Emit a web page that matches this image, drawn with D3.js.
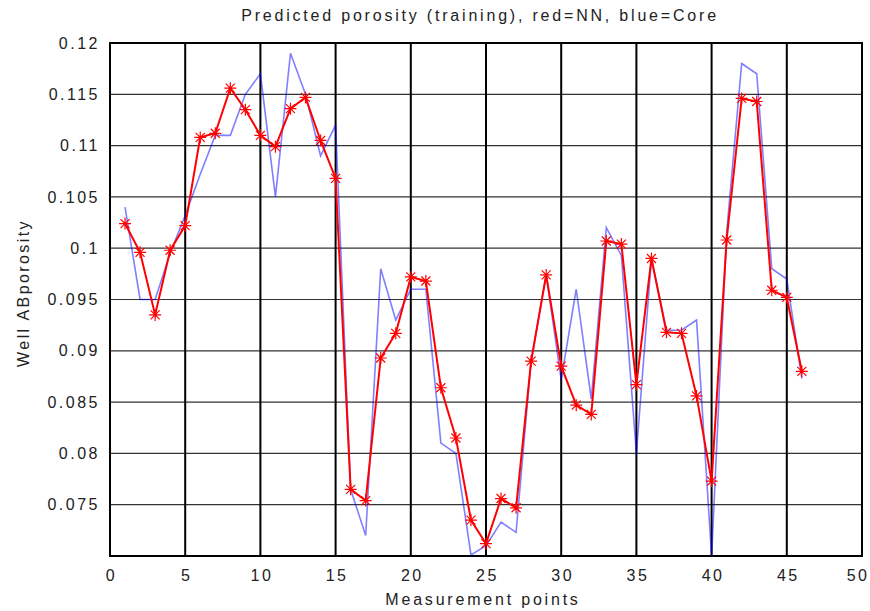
<!DOCTYPE html>
<html>
<head>
<meta charset="utf-8">
<script src="https://cdn.jsdelivr.net/npm/d3@7"></script>
<style>
    body { margin: 0; background: #fff; }
    text { font-family: "Liberation Sans", Arial, sans-serif; fill: #222; }
</style>
</head>
<body>
<svg id="chart" width="870" height="611"></svg>
<script>
// predicted porosity from the network (red) and measured core porosity (blue), points 1..46
const nnPorosity = [
    0.1024, 0.0996, 0.0935, 0.0998, 0.1022, 0.1108, 0.1112, 0.1156, 0.1135, 0.1110,
    0.1099, 0.1136, 0.1147, 0.1105, 0.1068, 0.0765, 0.0754, 0.0893, 0.0917, 0.0972,
    0.0968, 0.0864, 0.0815, 0.0735, 0.0712, 0.0756, 0.0747, 0.0890, 0.0974, 0.0885,
    0.0847, 0.0838, 0.1007, 0.1004, 0.0867, 0.0990, 0.0918, 0.0917, 0.0856, 0.0773,
    0.1008, 0.1146, 0.1143, 0.0959, 0.0952, 0.0880
];
const corePorosity = [
    0.1040, 0.0950, 0.0950, 0.0995, 0.1032, 0.1072, 0.1110, 0.1110, 0.1150, 0.1170,
    0.1050, 0.1190, 0.1150, 0.1090, 0.1120, 0.0765, 0.0720, 0.0980, 0.0930, 0.0960,
    0.0960, 0.0810, 0.0800, 0.0701, 0.0710, 0.0733, 0.0723, 0.0890, 0.0974, 0.0872,
    0.0960, 0.0853, 0.1020, 0.0993, 0.0800, 0.0990, 0.0920, 0.0920, 0.0930, 0.0700,
    0.1015, 0.1180, 0.1170, 0.0980, 0.0970, 0.0873
];
const xTicks = [0, 5, 10, 15, 20, 25, 30, 35, 40, 45, 50];
const yTicks = [0.075, 0.08, 0.085, 0.09, 0.095, 0.1, 0.105, 0.11, 0.115, 0.12];

const margin = { left: 110, right: 8, top: 43, bottom: 55 };
const width = 870, height = 611;

const x = d3.scaleLinear().domain([0, 50]).range([margin.left, width - margin.right]);
const y = d3.scaleLinear().domain([0.07, 0.12]).range([height - margin.bottom, margin.top]);

const svg = d3.select("#chart");

// horizontal grid
svg.append("g")
    .selectAll("line")
    .data(yTicks)
    .enter().append("line")
    .attr("x1", x(0)).attr("x2", x(50))
    .attr("y1", d => y(d)).attr("y2", d => y(d))
    .attr("stroke", "#333")
    .attr("stroke-width", 1.2);

// vertical grid
svg.append("g")
    .selectAll("line")
    .data(xTicks.filter(d => d > 0 && d < 50))
    .enter().append("line")
    .attr("x1", d => x(d)).attr("x2", d => x(d))
    .attr("y1", y(0.07)).attr("y2", y(0.12))
    .attr("stroke", "#000")
    .attr("stroke-width", 2);

// axes with labels only
const xAxis = d3.axisBottom(x).tickValues(xTicks).tickSize(0).tickPadding(14);
const yAxis = d3.axisLeft(y).tickValues(yTicks).tickSize(0).tickPadding(10)
    .tickFormat(d => String(+d.toFixed(3)));

const gx = svg.append("g").attr("transform", "translate(0," + y(0.07) + ")").call(xAxis);
const gy = svg.append("g").attr("transform", "translate(" + x(0) + ",0)").call(yAxis);
[gx, gy].forEach(g => {
    g.select(".domain").remove();
    g.selectAll("text")
        .style("font-family", "'Liberation Sans', Arial, sans-serif")
        .style("font-size", "16px")
        .style("letter-spacing", "2.5px")
        .attr("fill", "#222");
});
gx.selectAll("text").attr("dx", "1px");
// last label sits against the right edge
gx.selectAll("text").filter(d => d === 50)
    .attr("text-anchor", "end")
    .attr("dx", (width - 1 - x(50)) + "px");

// frame
svg.append("rect")
    .attr("x", x(0)).attr("y", y(0.12))
    .attr("width", x(50) - x(0)).attr("height", y(0.07) - y(0.12))
    .attr("fill", "none")
    .attr("stroke", "#000")
    .attr("stroke-width", 2);

const line = d3.line()
    .x((d, i) => x(i + 1))
    .y(d => y(d));

svg.append("path")
    .datum(corePorosity)
    .attr("d", line)
    .attr("fill", "none")
    .attr("stroke", "#0000ff")
    .attr("stroke-opacity", 0.5)
    .attr("stroke-width", 1.6);

svg.append("path")
    .datum(nnPorosity)
    .attr("d", line)
    .attr("fill", "none")
    .attr("stroke", "#ff0000")
    .attr("stroke-width", 2);

// asterisk markers
const s = 6, sd = 4.5;
const star = "M" + (-s) + ",0L" + s + ",0M0," + (-s) + "L0," + s +
    "M" + (-sd) + "," + (-sd) + "L" + sd + "," + sd + "M" + (-sd) + "," + sd + "L" + sd + "," + (-sd);
svg.append("g")
    .selectAll("path")
    .data(nnPorosity)
    .enter().append("path")
    .attr("transform", (d, i) => "translate(" + x(i + 1) + "," + y(d) + ")")
    .attr("d", star)
    .attr("fill", "none")
    .attr("stroke", "#ff0000")
    .attr("stroke-width", 1.2);

// titles
svg.append("text")
    .attr("x", 480).attr("y", 21)
    .attr("text-anchor", "middle")
    .style("font-size", "16px")
    .style("letter-spacing", "2.8px")
    .text("Predicted porosity (training), red=NN, blue=Core");

svg.append("text")
    .attr("x", 483).attr("y", 605)
    .attr("text-anchor", "middle")
    .style("font-size", "16px")
    .style("letter-spacing", "2.8px")
    .text("Measurement points");

svg.append("text")
    .attr("transform", "translate(29,293) rotate(-90)")
    .attr("text-anchor", "middle")
    .style("font-size", "16px")
    .style("letter-spacing", "2.4px")
    .text("Well ABporosity");
</script>
</body>
</html>
